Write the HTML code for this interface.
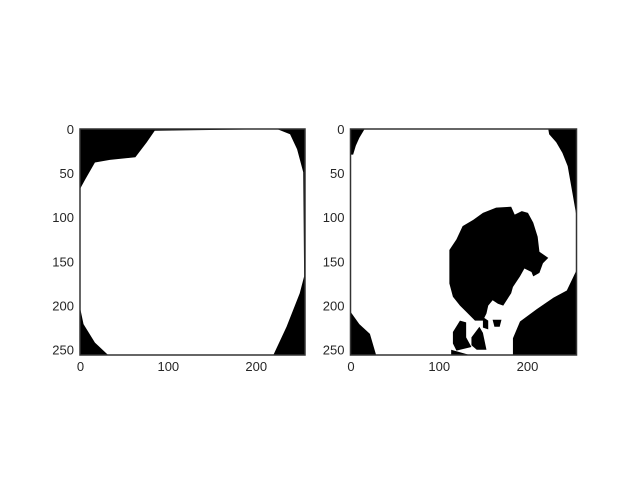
<!DOCTYPE html>
<html><head><meta charset="utf-8"><style>
body{margin:0;background:#fff;}
svg text{font-family:"Liberation Sans",sans-serif;font-size:13px;fill:#262626;}
</style></head><body>
<svg id="fig" width="640" height="480" xmlns="http://www.w3.org/2000/svg"></svg>
<script>
const yTicks=[0,50,100,150,200,250];
const xTicks=[0,100,200];
const leftWhite=[[85,2],[224,0],[239,6],[247,23],[254,49],[255,167],[250,186],[235,224],[220,256],[32,256],[17,242],[4,221],[0,202],[0,68],[6,57],[17,38],[34,35],[63,32],[76,15]];
const rightBlack=[
[[0,0],[16,0],[10,10],[6,19],[3,29],[0,29]],
[[224,0],[256,0],[256,99],[252,76],[246,42],[240,27],[233,15],[225,6]],
[[0,207],[10,221],[22,232],[29,256],[0,256]],
[[256,160],[245,183],[230,191],[211,204],[192,218],[184,237],[184,256],[256,256]],
[[165,89],[182,88],[186,97],[194,93],[201,95],[207,106],[212,122],[214,139],[224,146],[218,152],[214,163],[207,167],[205,162],[197,158],[192,167],[184,179],[182,186],[173,200],[167,198],[161,194],[156,200],[154,209],[150,217],[141,217],[131,207],[124,200],[116,190],[112,175],[112,137],[120,125],[127,110],[139,103],[150,95]],
[[116,230],[124,217],[131,219],[131,236],[137,247],[120,251],[116,243]],
[[137,236],[146,224],[150,231],[154,250],[143,250],[137,245]],
[[150,213],[156,217],[156,227],[150,225]],
[[161,216],[171,216],[169,224],[163,224]],
[[114,250],[135,256],[114,256]]
];
const NS="http://www.w3.org/2000/svg";
const fig=document.getElementById('fig');
function mk(t,a,p){const e=document.createElementNS(NS,t);for(const k in a)e.setAttribute(k,a[k]);p.appendChild(e);return e;}
const panels=[{x0:80,y0:129,w:225,h:226,name:'left'},{x0:350.5,y0:129,w:226,h:226,name:'right'}];
panels.forEach((P,i)=>{
  const sx=v=>P.x0+v*P.w/256, sy=v=>P.y0+v*P.h/256;
  const g=mk('g',{},fig);
  
  
  const pts=a=>a.map(p=>sx(p[0])+','+sy(p[1])).join(' ');
  if(i===0){
    const bg=mk('rect',{x:P.x0,y:P.y0,width:P.w,height:P.h,fill:'#000'},g);
    
    
    const w=mk('polygon',{points:pts(leftWhite),fill:'#fff'},g);
    
    
  } else {
    const bg=mk('rect',{x:P.x0,y:P.y0,width:P.w,height:P.h,fill:'#fff'},g);
    
    
    rightBlack.forEach(a=>{
      const b=mk('polygon',{points:pts(a),fill:'#000'},g);
      
      
    });
  }
  const fr=mk('rect',{x:P.x0,y:P.y0,width:P.w,height:P.h,fill:'none',stroke:'#333',"stroke-width":1.5},g);
  
  
  yTicks.forEach(v=>{
    const t=mk('text',{x:P.x0-6,y:sy(v+0.5)+4.5,"text-anchor":"end"},g);
    t.textContent=v;
    
    
  });
  xTicks.forEach(v=>{
    const t=mk('text',{x:sx(v+0.5),y:P.y0+P.h+16,"text-anchor":"middle"},g);
    t.textContent=v;
    
    
  });
});
</script>
</body></html>
